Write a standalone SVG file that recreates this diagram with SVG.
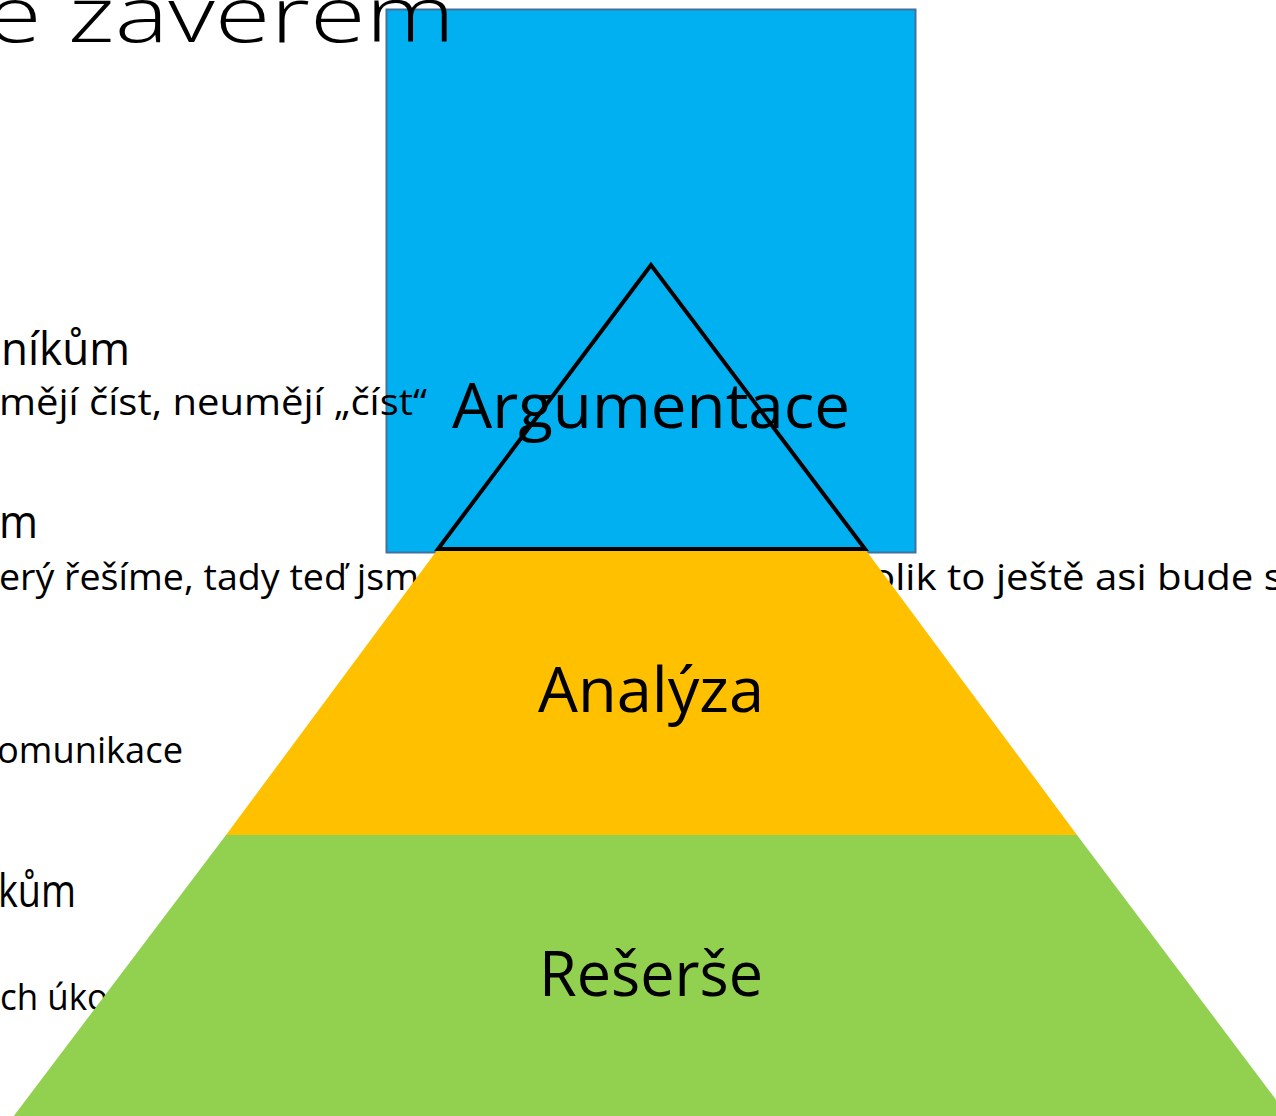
<svg xmlns="http://www.w3.org/2000/svg" width="1276" height="1116" viewBox="0 0 1276 1116">
  <style>
    .t { font-family: "Open Sans", "Liberation Sans", sans-serif; fill: #000; }
    .big { font-size: 45px; }
    .small { font-size: 37px; }
    .lab { font-size: 62px; text-anchor: middle; }
  </style>
  <rect width="1276" height="1116" fill="#ffffff"/>
  <g id="box">
    <rect x="386.5" y="9.5" width="529" height="543" fill="#00B0F0" stroke="#41719C" stroke-width="2"/>
  </g>
  <g id="slide-text">
    <text class="t" x="-14" y="42" font-size="78" font-weight="300" textLength="469" lengthAdjust="spacingAndGlyphs">e závěrem</text>
    <text class="t big" x="1" y="365" textLength="129" lengthAdjust="spacingAndGlyphs">níkům</text>
    <text class="t small" x="-1" y="415" textLength="428" lengthAdjust="spacingAndGlyphs">mějí číst, neumějí „číst“</text>
    <text class="t big" x="-1" y="538" textLength="39" lengthAdjust="spacingAndGlyphs">m</text>
    <text class="t small" x="-1" y="590" textLength="420" lengthAdjust="spacingAndGlyphs">erý řešíme, tady teď jsm</text>
    <text class="t small" x="871" y="590" textLength="412" lengthAdjust="spacingAndGlyphs">olik to ještě asi bude s</text>
    <text class="t small" x="-3" y="763" textLength="186" lengthAdjust="spacingAndGlyphs">omunikace</text>
    <text class="t big" x="-2" y="907" textLength="78" lengthAdjust="spacingAndGlyphs">kům</text>
    <text class="t small" x="0" y="1010" textLength="108" lengthAdjust="spacingAndGlyphs">ch úko</text>
  </g>
  <g id="level-analyza">
    <polygon points="438,549 865,549 1077,835 226,835" fill="#FFC000"/>
    <text class="t lab" x="651" y="712" textLength="226" lengthAdjust="spacingAndGlyphs">Analýza</text>
  </g>
  <g id="level-reserse">
    <polygon points="226,835 1077,835 1289,1117 13,1117" fill="#92D050"/>
    <text class="t lab" x="651" y="996" textLength="224" lengthAdjust="spacingAndGlyphs">Rešerše</text>
  </g>
  <g id="level-argumentace">
    <polygon points="651,265 438,549 865,549" fill="none" stroke="#000" stroke-width="4" stroke-linejoin="miter"/>
    <text class="t lab" x="651" y="428" textLength="398" lengthAdjust="spacingAndGlyphs">Argumentace</text>
  </g>
  <g id="connectors"></g>
</svg>
